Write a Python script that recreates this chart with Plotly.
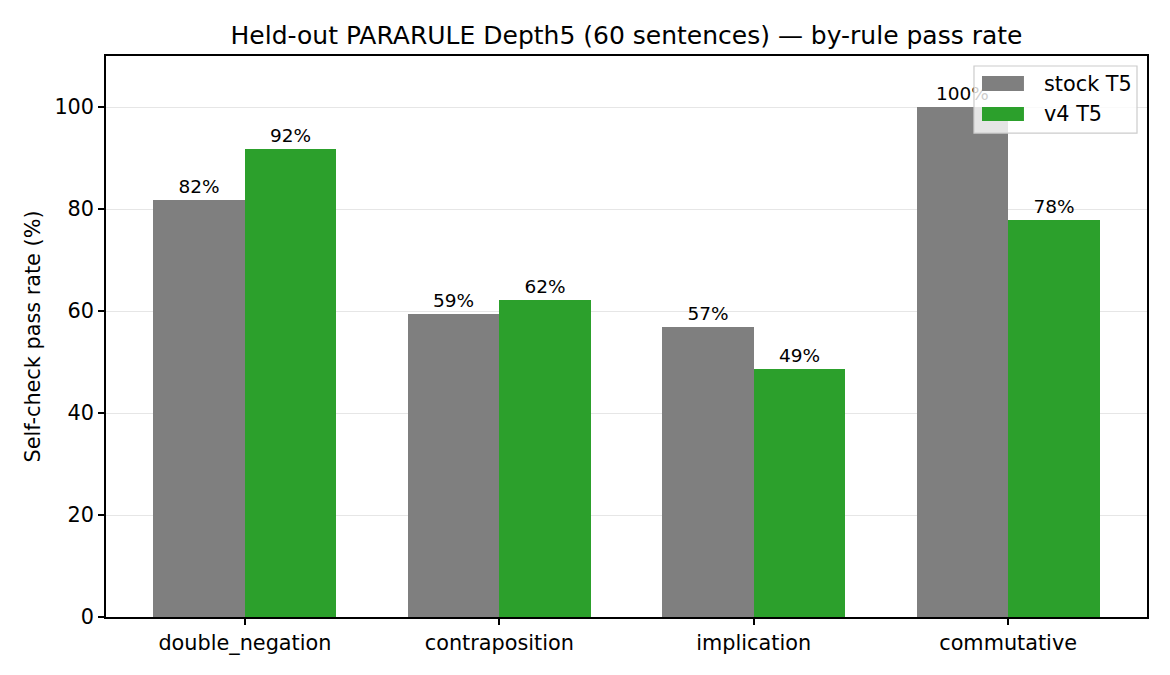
import plotly.graph_objects as go

categories = ["double_negation", "contraposition", "implication", "commutative"]
stock_t5 = [81.8, 59.4, 56.9, 100.0]
v4_t5 = [91.8, 62.2, 48.6, 77.8]
y_ticks = [0, 20, 40, 60, 80, 100]
series_names = ["stock T5", "v4 T5"]
series_colors = ["#7f7f7f", "#2ca02c"]

FONT = "DejaVu Sans"
W = 0.36
xs = list(range(len(categories)))

fig = go.Figure()
for name, vals, col, off in ((series_names[0], stock_t5, series_colors[0], -W / 2),
                             (series_names[1], v4_t5, series_colors[1], W / 2)):
    fig.add_trace(go.Bar(x=[i + off for i in xs], y=vals, width=W, name=name,
                         marker=dict(color=col, line=dict(width=0)), showlegend=False,
                         text=[f"{v:.0f}%" for v in vals], textposition="outside",
                         textfont=dict(family=FONT, size=18.5, color="black"),
                         constraintext="none", cliponaxis=False))

annotations = []
# matplotlib-style legend (decoration in paper coordinates)
shapes = [dict(type="rect", xref="paper", yref="paper", x0=0.8338, x1=0.9904,
               y0=0.8627, y1=0.9822, fillcolor="rgba(255,255,255,0.8)",
               line=dict(color="#cccccc", width=1.2), layer="above")]
patch_y = [(0.9376, 0.9643), (0.8841, 0.9091)]
text_y = [0.9501, 0.8966]
for k in range(2):
    shapes.append(dict(type="rect", xref="paper", yref="paper", x0=0.8415, x1=0.8818,
                       y0=patch_y[k][0], y1=patch_y[k][1], fillcolor=series_colors[k],
                       line=dict(width=0), layer="above"))
    annotations.append(dict(x=0.8991, y=text_y[k], xref="paper", yref="paper",
                            text=series_names[k], showarrow=False, xanchor="left",
                            yanchor="middle", font=dict(family=FONT, size=20.8, color="black")))

fig.update_layout(
    width=1170, height=675,
    margin=dict(l=98, r=31, t=48, b=66),
    paper_bgcolor="white", plot_bgcolor="white",
    font=dict(family=FONT, size=20.8, color="black"),
    title=dict(text="Held-out PARARULE Depth5 (60 sentences) — by-rule pass rate",
               x=618.5 / 1170, xanchor="center", y=1 - 27 / 675, yanchor="middle",
               font=dict(family=FONT, size=25, color="black")),
    barmode="overlay", bargap=0,
    showlegend=False,
    annotations=annotations,
    shapes=shapes,
)
fig.update_xaxes(range=[-0.546, 3.546], tickvals=xs, ticktext=categories,
                 showgrid=False, zeroline=False, showline=True, linecolor="black",
                 linewidth=1.5, mirror=True, ticks="outside", ticklen=6, tickcolor="black",
                 tickwidth=1.5, tickfont=dict(family=FONT, size=20.8))
fig.update_yaxes(range=[0, 110], tickvals=y_ticks, showgrid=True, gridcolor="#e6e6e6",
                 gridwidth=1, zeroline=False, showline=True, linecolor="black",
                 linewidth=1.5, mirror=True, ticks="outside", ticklen=6, tickcolor="black",
                 tickwidth=1.5, tickfont=dict(family=FONT, size=20.8),
                 title=dict(text="Self-check pass rate (%)", font=dict(family=FONT, size=20.8),
                            standoff=8))

fig.write_html("out.html")
